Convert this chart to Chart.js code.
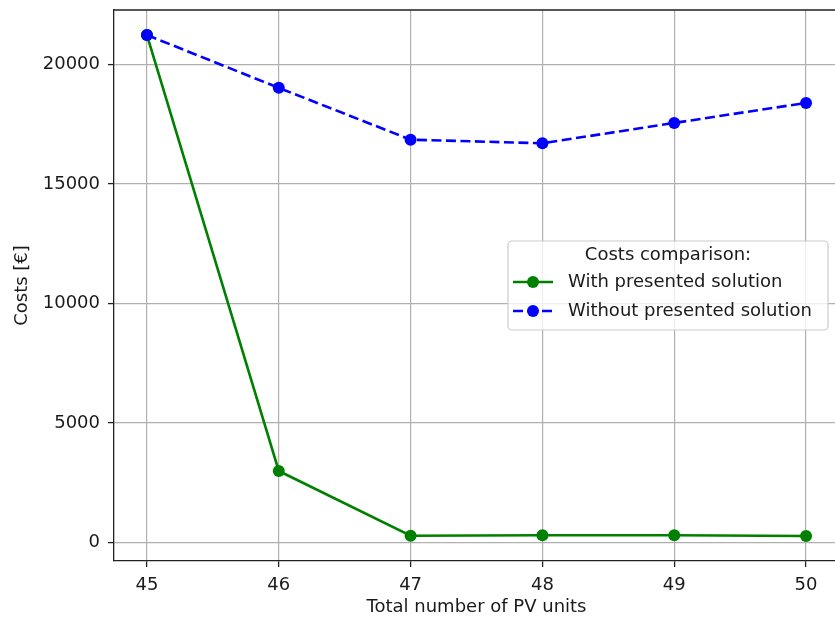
<!DOCTYPE html>
<html>
<head>
<meta charset="utf-8">
<script src="https://cdn.jsdelivr.net/npm/chart.js@4.4.0/dist/chart.umd.min.js"></script>
<style>
  html, body { margin: 0; padding: 0; background: #fff; overflow: hidden; }
  #wrap { width: 845px; height: 617px; }
</style>
</head>
<body>
<div id="wrap"><canvas id="costChart" width="845" height="617"></canvas></div>
<script>
// PV units vs. costs
const pvUnits = [45, 46, 47, 48, 49, 50];
const withSolution = [21240, 2990, 280, 300, 300, 270];
const withoutSolution = [21240, 19030, 16860, 16710, 17560, 18400];
const yTickValues = [0, 5000, 10000, 15000, 20000];
const seriesNames = ['With presented solution', 'Without presented solution'];
const legendTitle = 'Costs comparison:';

const FONT = 'DejaVu Sans';
const TEXT = '#1a1a1a';
const AXIS = '#222';

// 5% margin on both sides of the data range
function padded(values) {
  const lo = Math.min(...values), hi = Math.max(...values);
  const m = (hi - lo) * 0.05;
  return [lo - m, hi + m];
}
const [xMin, xMax] = padded(pvUnits);
const [yMin, yMax] = padded(withSolution.concat(withoutSolution));

const toPoints = vals => pvUnits.map((x, i) => ({ x: x, y: vals[i] }));

// top/right spines and the boxed legend
const frameLegend = {
  id: 'frameLegend',
  afterDraw(chart) {
    const { ctx, chartArea: a } = chart;
    ctx.save();
    ctx.strokeStyle = AXIS;
    ctx.lineWidth = 1.3;
    ctx.beginPath();
    ctx.moveTo(a.left, a.top);
    ctx.lineTo(a.right, a.top);
    ctx.lineTo(a.right, a.bottom);
    ctx.stroke();

    const bx = 508, by = 241, bw = 320, bh = 89;
    ctx.beginPath();
    ctx.roundRect(bx, by, bw, bh, 4);
    ctx.fillStyle = 'rgba(255,255,255,0.8)';
    ctx.fill();
    ctx.strokeStyle = '#cccccc';
    ctx.lineWidth = 1.2;
    ctx.stroke();

    ctx.font = '18px "' + FONT + '"';
    ctx.fillStyle = TEXT;
    ctx.textBaseline = 'middle';
    ctx.textAlign = 'center';
    ctx.fillText(legendTitle, bx + bw / 2, 255);

    chart.data.datasets.forEach((ds, i) => {
      const y = 282 + i * 29;
      ctx.strokeStyle = ds.borderColor;
      ctx.lineWidth = ds.borderWidth;
      ctx.setLineDash(ds.borderDash || []);
      ctx.beginPath();
      ctx.moveTo(513, y);
      ctx.lineTo(553, y);
      ctx.stroke();
      ctx.setLineDash([]);
      ctx.fillStyle = ds.pointBackgroundColor;
      ctx.beginPath();
      ctx.arc(533, y, ds.pointRadius, 0, Math.PI * 2);
      ctx.fill();
      ctx.fillStyle = TEXT;
      ctx.textAlign = 'left';
      ctx.fillText(ds.label, 568, y);
    });
    ctx.restore();
  }
};

const gridStyle = {
  color: '#b0b0b0',
  lineWidth: 1.2,
  tickLength: 6,
  tickColor: AXIS,
  tickWidth: 1.3
};

// fixed axis sizes, no extra label padding around the plot
function fixSize(prop, size) {
  return s => {
    s[prop] = size;
    s.paddingTop = s.paddingBottom = s.paddingLeft = s.paddingRight = 0;
  };
}

new Chart(document.getElementById('costChart'), {
  type: 'line',
  data: {
    datasets: [{
      label: seriesNames[0],
      data: toPoints(withSolution),
      borderColor: '#008000',
      pointBackgroundColor: '#008000',
      borderWidth: 2.6,
      pointRadius: 6,
      pointHoverRadius: 6,
      pointBorderWidth: 0,
      tension: 0,
      order: 1
    }, {
      label: seriesNames[1],
      data: toPoints(withoutSolution),
      borderColor: '#0000ff',
      pointBackgroundColor: '#0000ff',
      borderWidth: 2.6,
      borderDash: [10, 4.5],
      pointRadius: 6,
      pointHoverRadius: 6,
      pointBorderWidth: 0,
      tension: 0,
      order: 0
    }]
  },
  options: {
    responsive: false,
    animation: false,
    devicePixelRatio: 1,
    layout: { padding: { left: 0, top: 10, right: 6, bottom: 0 } },
    plugins: { legend: { display: false }, tooltip: { enabled: false } },
    scales: {
      x: {
        type: 'linear',
        min: xMin,
        max: xMax,
        afterBuildTicks: s => { s.ticks = pvUnits.map(v => ({ value: v })); },
        afterFit: fixSize('height', 56),
        ticks: { font: { family: FONT, size: 18 }, color: TEXT, padding: 8, callback: v => String(v) },
        grid: gridStyle,
        border: { color: AXIS, width: 1.3 },
        title: {
          display: true,
          text: 'Total number of PV units',
          font: { family: FONT, size: 18, lineHeight: 1.1 },
          color: TEXT,
          padding: { top: 0, bottom: 0 }
        }
      },
      y: {
        min: yMin,
        max: yMax,
        afterBuildTicks: s => { s.ticks = yTickValues.map(v => ({ value: v })); },
        afterFit: fixSize('width', 114),
        ticks: { font: { family: FONT, size: 18 }, color: TEXT, padding: 8, callback: v => String(v) },
        grid: gridStyle,
        border: { color: AXIS, width: 1.3 },
        title: {
          display: true,
          text: 'Costs [€]',
          font: { family: FONT, size: 18, lineHeight: 1.2 },
          color: TEXT,
          padding: { top: 12, bottom: 0 }
        }
      }
    }
  },
  plugins: [frameLegend]
});
</script>
</body>
</html>
